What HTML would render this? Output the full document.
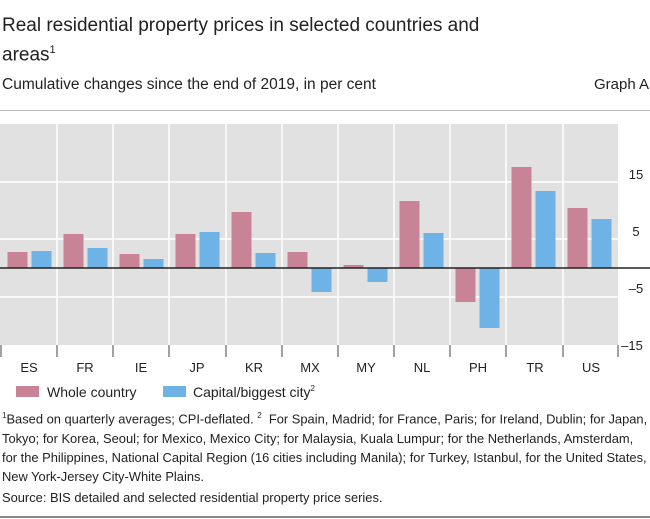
<!DOCTYPE html>
<html><head><style>
body{margin:0;width:650px;height:519px;overflow:hidden;background:#fff;font-family:"Liberation Sans",sans-serif;color:#222;position:relative}
.t{position:absolute;white-space:nowrap}
</style></head><body>
<div class="t" style="left:2px;top:13px;font-size:19px;line-height:25px">Real residential property prices in selected countries and<br>areas<sup style="font-size:11px">1</sup></div>
<div class="t" style="left:2px;top:76px;font-size:15.5px">Cumulative changes since the end of 2019, in per cent</div>
<div class="t" style="left:594px;top:76px;font-size:15px">Graph A</div>
<div style="position:absolute;left:0;top:110px;width:650px;height:1px;background:#bbb"></div>
<svg style="position:absolute;left:0;top:0" width="650" height="519">
<rect x="0" y="124" width="618" height="221" fill="#e1e1e1"/>
<g stroke="#fff" stroke-width="1.5">
<line x1="0" x2="618" y1="182" y2="182"/><line x1="0" x2="618" y1="239" y2="239"/><line x1="0" x2="618" y1="297" y2="297"/>
<line x1="57" x2="57" y1="124" y2="345"/><line x1="113" x2="113" y1="124" y2="345"/><line x1="169" x2="169" y1="124" y2="345"/><line x1="226" x2="226" y1="124" y2="345"/><line x1="282" x2="282" y1="124" y2="345"/><line x1="338" x2="338" y1="124" y2="345"/><line x1="394" x2="394" y1="124" y2="345"/><line x1="450" x2="450" y1="124" y2="345"/><line x1="506" x2="506" y1="124" y2="345"/><line x1="563" x2="563" y1="124" y2="345"/>
</g>
<g stroke="#444" stroke-width="1">
<line x1="1" x2="1" y1="345" y2="357"/><line x1="57" x2="57" y1="345" y2="357"/><line x1="113" x2="113" y1="345" y2="357"/><line x1="169" x2="169" y1="345" y2="357"/><line x1="226" x2="226" y1="345" y2="357"/><line x1="282" x2="282" y1="345" y2="357"/><line x1="338" x2="338" y1="345" y2="357"/><line x1="394" x2="394" y1="345" y2="357"/><line x1="450" x2="450" y1="345" y2="357"/><line x1="506" x2="506" y1="345" y2="357"/><line x1="563" x2="563" y1="345" y2="357"/><line x1="618" x2="618" y1="345" y2="357"/>
</g>
<g fill="#c98396">
<rect x="7.5" y="252" width="20" height="16"/>
<rect x="63.5" y="234" width="20" height="34"/>
<rect x="119.5" y="254" width="20" height="14"/>
<rect x="175.5" y="234" width="20" height="34"/>
<rect x="231.5" y="212" width="20" height="56"/>
<rect x="287.5" y="252" width="20" height="16"/>
<rect x="343.5" y="265" width="20" height="3"/>
<rect x="399.5" y="201" width="20" height="67"/>
<rect x="455.5" y="268" width="20" height="34"/>
<rect x="511.5" y="167" width="20" height="101"/>
<rect x="567.5" y="208" width="20" height="60"/>
</g>
<g fill="#6fb3e6">
<rect x="31.5" y="251" width="20" height="17"/>
<rect x="87.5" y="248" width="20" height="20"/>
<rect x="143.5" y="259" width="20" height="9"/>
<rect x="199.5" y="232" width="20" height="36"/>
<rect x="255.5" y="253" width="20" height="15"/>
<rect x="311.5" y="268" width="20" height="24"/>
<rect x="367.5" y="268" width="20" height="14"/>
<rect x="423.5" y="233" width="20" height="35"/>
<rect x="479.5" y="268" width="20" height="60"/>
<rect x="535.5" y="191" width="20" height="77"/>
<rect x="591.5" y="219" width="20" height="49"/>
</g>
<line x1="0" x2="650" y1="268" y2="268" stroke="#222" stroke-width="1.5"/>
<g font-size="13" fill="#222" font-family="Liberation Sans,sans-serif">
<text x="636" y="179" text-anchor="middle">15</text>
<text x="636" y="236" text-anchor="middle">5</text>
<text x="636" y="293" text-anchor="middle">–5</text>
<text x="632" y="350" text-anchor="middle">–15</text>
<g text-anchor="middle">
<text x="29" y="372">ES</text><text x="85" y="372">FR</text><text x="141" y="372">IE</text><text x="197" y="372">JP</text><text x="254" y="372">KR</text><text x="310" y="372">MX</text><text x="366" y="372">MY</text><text x="422" y="372">NL</text><text x="478" y="372">PH</text><text x="535" y="372">TR</text><text x="591" y="372">US</text>
</g>
</g>
<rect x="16" y="386" width="23" height="11" fill="#c98396"/>
<rect x="163" y="386" width="23" height="11" fill="#6fb3e6"/>
<text x="47" y="397" font-size="14" fill="#222" font-family="Liberation Sans,sans-serif">Whole country</text>
<text x="193" y="397" font-size="14" fill="#222" font-family="Liberation Sans,sans-serif">Capital/biggest city<tspan font-size="8" dy="-6">2</tspan></text>
</svg>
<div class="t" style="left:2px;top:406px;font-size:12.9px;line-height:19.3px"><sup style="font-size:8px">1</sup>Based on quarterly averages; CPI-deflated. <sup style="font-size:8px">2</sup>&nbsp; For Spain, Madrid; for France, Paris; for Ireland, Dublin; for Japan,<br>Tokyo; for Korea, Seoul; for Mexico, Mexico City; for Malaysia, Kuala Lumpur; for the Netherlands, Amsterdam,<br>for the Philippines, National Capital Region (16 cities including Manila); for Turkey, Istanbul, for the United States,<br>New York-Jersey City-White Plains.</div>
<div class="t" style="left:2px;top:490px;font-size:12.9px">Source: BIS detailed and selected residential property price series.</div>
<div style="position:absolute;left:0;top:516px;width:650px;height:2px;background:#888"></div>
</body></html>
